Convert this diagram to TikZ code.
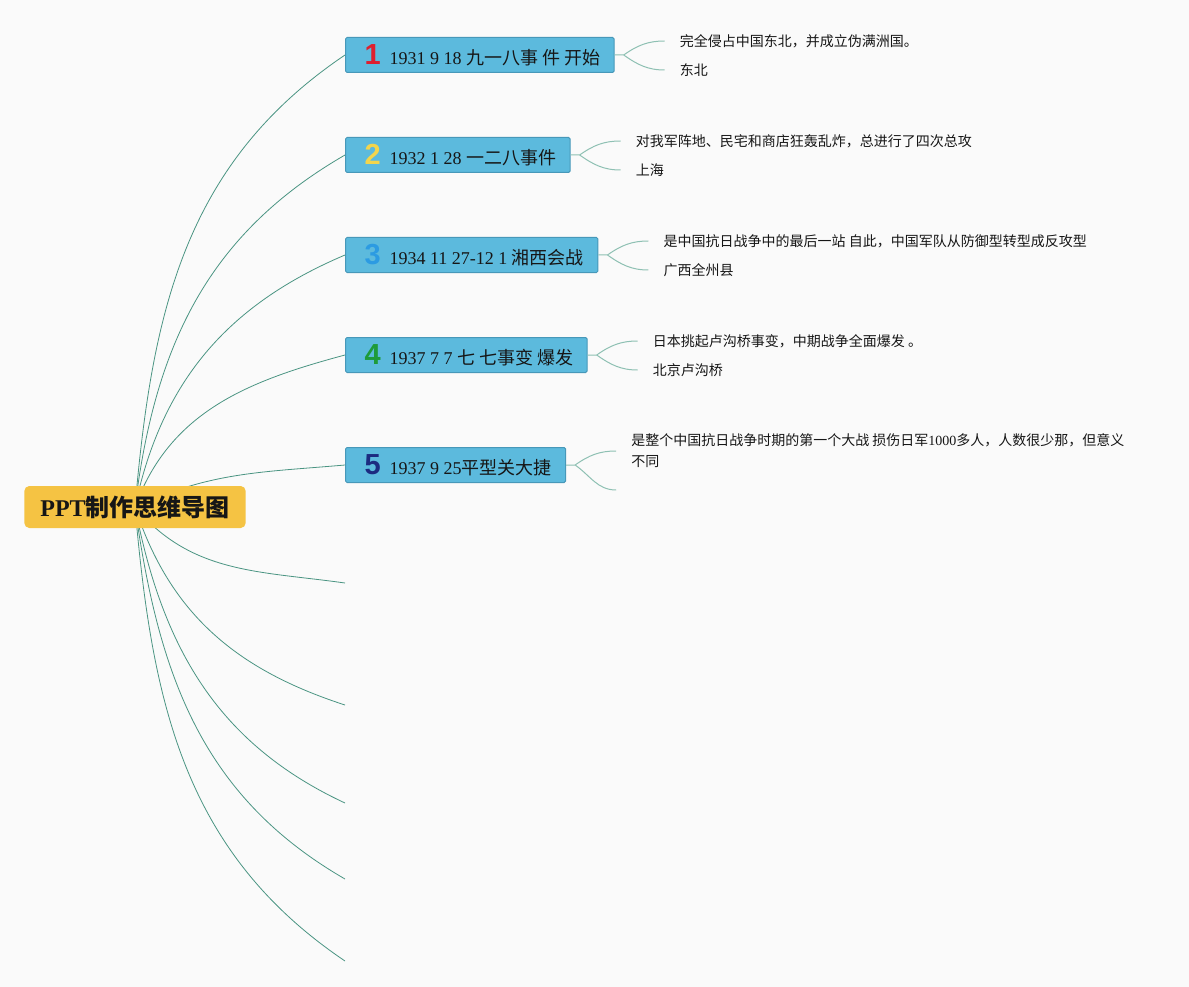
\documentclass[tikz,border=0pt]{standalone}
\usepackage{fontspec}
\setmainfont{Liberation Serif}
\newfontfamily\cjk{Noto Sans CJK SC}
\newfontfamily\digitfont{Liberation Sans}
\usepackage{xcolor}
\definecolor{paper}{HTML}{FAFAFA}
\definecolor{ink}{HTML}{161616}
\definecolor{gold}{HTML}{F5C343}
\definecolor{topic}{HTML}{5CBADD}
\definecolor{topicline}{HTML}{4798B9}
\definecolor{limb}{HTML}{4A9482}
\definecolor{twig}{HTML}{8EC0B3}
\definecolor{one}{HTML}{DE1F2E}
\definecolor{two}{HTML}{F3D54C}
\definecolor{three}{HTML}{2C9BE2}
\definecolor{four}{HTML}{1E9B3A}
\definecolor{five}{HTML}{1C2B80}
\usetikzlibrary{backgrounds}
\tikzset{
  root/.style={fill=gold, rounded corners=5pt, inner xsep=16pt, minimum height=42pt,
    font=\fontsize{24}{26}\selectfont\bfseries, text=ink},
  topic/.style={draw=topicline, fill=topic, line width=1pt, rounded corners=1.5pt,
    minimum height=35pt, inner xsep=14pt, inner ysep=2pt, anchor=west,
    font=\fontsize{18}{20}\selectfont, text=ink},
  leaf/.style={font=\fontsize{14}{21}\selectfont\cjk, text=ink, align=left,
    inner xsep=15pt, inner ysep=2pt, anchor=west},
  limb/.style={draw=limb, line width=0.8pt},
  twig/.style={draw=twig, line width=1pt},
}
\newcommand\badge[2]{\hspace{5pt}{\digitfont\bfseries\fontsize{29}{29}\selectfont\color{#1}#2}\hspace{9pt}}

\begin{document}
\begin{tikzpicture}[x=1pt, y=1pt]
  \begin{scope}[on background layer]
    \fill[paper] (0,0) rectangle (1189,-987);
  \end{scope}

  % Centre and the five dated topics.
  \node[root] (root) at (135,-507) {PPT{\cjk 制作思维导图}};
  \node[topic] (t1) at (345,-55) {\badge{one}{1}1931 9 18 {\cjk 九一八事 件 开始}};
  \node[topic] (t2) at (345,-155) {\badge{two}{2}1932 1 28 {\cjk 一二八事件}};
  \node[topic] (t3) at (345,-255) {\badge{three}{3}1934 11 27-12 1 {\cjk 湘西会战}};
  \node[topic] (t4) at (345,-355) {\badge{four}{4}1937 7 7 {\cjk 七 七事变 爆发}};
  \node[topic] (t5) at (345,-465) {\badge{five}{5}1937 9 25{\cjk 平型关大捷}};

  % Details hanging off each topic.
  \node[leaf] (l1a) at ([xshift=50pt, yshift=14pt]t1.east) {完全侵占中国东北，并成立伪满洲国。};
  \node[leaf] (l1b) at ([xshift=50pt, yshift=-15pt]t1.east) {东北};
  \node[leaf] (l2a) at ([xshift=50pt, yshift=14pt]t2.east) {对我军阵地、民宅和商店狂轰乱炸，总进行了四次总攻};
  \node[leaf] (l2b) at ([xshift=50pt, yshift=-15pt]t2.east) {上海};
  \node[leaf] (l3a) at ([xshift=50pt, yshift=14pt]t3.east) {是中国抗日战争中的最后一站 自此，中国军队从防御型转型成反攻型};
  \node[leaf] (l3b) at ([xshift=50pt, yshift=-15pt]t3.east) {广西全州县};
  \node[leaf] (l4a) at ([xshift=50pt, yshift=14pt]t4.east) {日本挑起卢沟桥事变，中期战争全面爆发 。};
  \node[leaf] (l4b) at ([xshift=50pt, yshift=-15pt]t4.east) {北京卢沟桥};
  \node[leaf] (l5a) at ([xshift=50pt, yshift=14pt]t5.east)
    {是整个中国抗日战争时期的第一个大战 损伤日军{\rmfamily 1000}多人，人数很少那，但意义\\不同};
  \coordinate (l5b) at ([xshift=50pt, yshift=-25pt]t5.east);

  \foreach \t in {1,...,4} {
    \draw[twig] (t\t.east) -- ++(9pt,0) coordinate (k\t)
      (k\t) to[out=35, in=180] (l\t a.west)
      (k\t) to[out=-35, in=180] (l\t b.west);
  }
  \draw[twig] (t5.east) -- ++(9pt,0) coordinate (k5)
    (k5) to[out=35, in=180] (l5a.west)
    (k5) to[out=-35, in=180] (l5b);

  % Empty branches below.
  \foreach \y [count=\k] in {-583,-705,-803,-879,-961}
    \coordinate (e\k) at (345,\y);

  \begin{scope}[on background layer]
    \foreach \to/\o/\n in {t1/85/214, t2/83/210, t3/78/203, t4/70/195, t5/25/185,
        e1/-50/172, e2/-72/162, e3/-79/155, e4/-82/150, e5/-85/146}
      \draw[limb] (root.center) to[out=\o, in=\n] (\to.west);
  \end{scope}
\end{tikzpicture}
\end{document}
